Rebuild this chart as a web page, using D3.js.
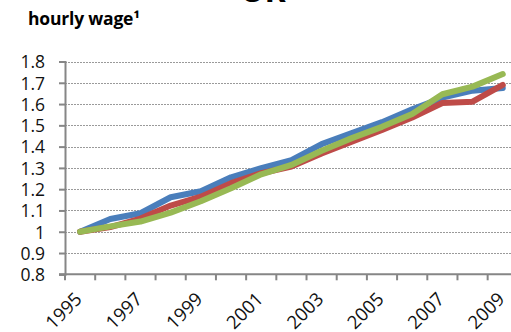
<!DOCTYPE html>
<html>
<head>
<meta charset="utf-8">
<script src="https://cdn.jsdelivr.net/npm/d3@7"></script>
<style>
  html, body { margin: 0; padding: 0; background: #fff; }
  svg { display: block; }
</style>
</head>
<body>
<div id="chart"></div>
<script>
// Hourly wage index, UK (1995 = 1)
const years = [1995, 1996, 1997, 1998, 1999, 2000, 2001, 2002, 2003, 2004, 2005, 2006, 2007, 2008, 2009];
const seriesBlue  = [1.00, 1.06, 1.087, 1.162, 1.19, 1.256, 1.299, 1.336, 1.412, 1.464, 1.515, 1.575, 1.63, 1.663, 1.675];
const seriesRed   = [1.00, 1.022, 1.062, 1.123, 1.165, 1.228, 1.275, 1.306, 1.368, 1.423, 1.478, 1.537, 1.605, 1.611, 1.69];
const seriesGreen = [1.00, 1.025, 1.048, 1.09, 1.143, 1.204, 1.27, 1.314, 1.381, 1.44, 1.493, 1.553, 1.646, 1.682, 1.741];
const yTicks = [0.8, 0.9, 1, 1.1, 1.2, 1.3, 1.4, 1.5, 1.6, 1.7, 1.8];
const yearLabels = [1995, 1997, 1999, 2001, 2003, 2005, 2007, 2009];

const series = [
  { name: "blue",  values: seriesBlue,  color: "#4A7EBB" },
  { name: "red",   values: seriesRed,   color: "#BE4B48" },
  { name: "green", values: seriesGreen, color: "#98B954" }
];

const W = 511, H = 332;
const plotLeft = 65, plotTop = 61.5, plotBottom = 274.3, step = 30.19;
const fontFam = "'Open Sans', 'Liberation Sans', sans-serif";

const svg = d3.select("#chart").append("svg")
  .attr("width", W).attr("height", H);

const x = d3.scaleBand().domain(years).range([plotLeft, plotLeft + step * years.length]).padding(0);
const y = d3.scaleLinear().domain([0.8, 1.8]).range([plotBottom, plotTop]);
const cx = d => x(d) + x.bandwidth() / 2;

// Titles
svg.append("text").attr("x", 263).attr("y", 2).attr("text-anchor", "middle")
  .attr("font-family", fontFam).attr("font-weight", 700).attr("font-size", 32)
  .attr("fill", "#000").text("UK");
svg.append("text").attr("x", 28).attr("y", 25)
  .attr("font-family", fontFam).attr("font-weight", 700).attr("font-size", 17.5)
  .attr("letter-spacing", -0.2)
  .attr("fill", "#000").text("hourly wage¹");

// Gridlines
svg.append("g").selectAll("line").data(yTicks.filter(t => t > 0.8)).join("line")
  .attr("x1", plotLeft).attr("x2", W)
  .attr("y1", d => Math.round(y(d)) + 0.5).attr("y2", d => Math.round(y(d)) + 0.5)
  .attr("stroke", "#9a9a9a").attr("stroke-width", 1).attr("stroke-dasharray", "2,1");

// Y axis
const yAxis = svg.append("g").attr("transform", `translate(${plotLeft},0)`)
  .call(d3.axisLeft(y).tickValues(yTicks).tickSize(6).tickPadding(14)
    .tickFormat(d => d3.format("")(+d.toFixed(1))));
yAxis.select(".domain").attr("stroke", "#868686").attr("stroke-width", 2);
yAxis.selectAll(".tick line").attr("stroke", "#868686").attr("stroke-width", 2);
yAxis.selectAll("text").attr("font-family", fontFam).attr("font-size", 17.5)
  .attr("fill", "#111").attr("dy", "0.36em");

// X axis: boundary ticks between categories
const boundaries = years.map(d => x(d)).concat([x(years[years.length - 1]) + x.bandwidth()]);
svg.append("line").attr("x1", plotLeft - 6).attr("x2", W)
  .attr("y1", plotBottom).attr("y2", plotBottom)
  .attr("stroke", "#868686").attr("stroke-width", 2);
svg.append("g").selectAll("line").data(boundaries).join("line")
  .attr("x1", d => d).attr("x2", d => d)
  .attr("y1", plotBottom).attr("y2", plotBottom + 6)
  .attr("stroke", "#868686").attr("stroke-width", 2);

// X labels, every second year, rotated
svg.append("g").selectAll("text").data(yearLabels).join("text")
  .attr("transform", d => `translate(${cx(d) + 3},${plotBottom + 26}) rotate(-45)`)
  .attr("text-anchor", "end")
  .attr("font-family", fontFam).attr("font-size", 18.5).attr("fill", "#111")
  .text(d => d);

// Lines
const line = d3.line().x((d, i) => cx(years[i])).y(d => y(d));
svg.append("g").selectAll("path").data(series).join("path")
  .attr("d", s => line(s.values))
  .attr("fill", "none").attr("stroke", s => s.color)
  .attr("stroke-width", 6).attr("stroke-linejoin", "round").attr("stroke-linecap", "round");
</script>
</body>
</html>
